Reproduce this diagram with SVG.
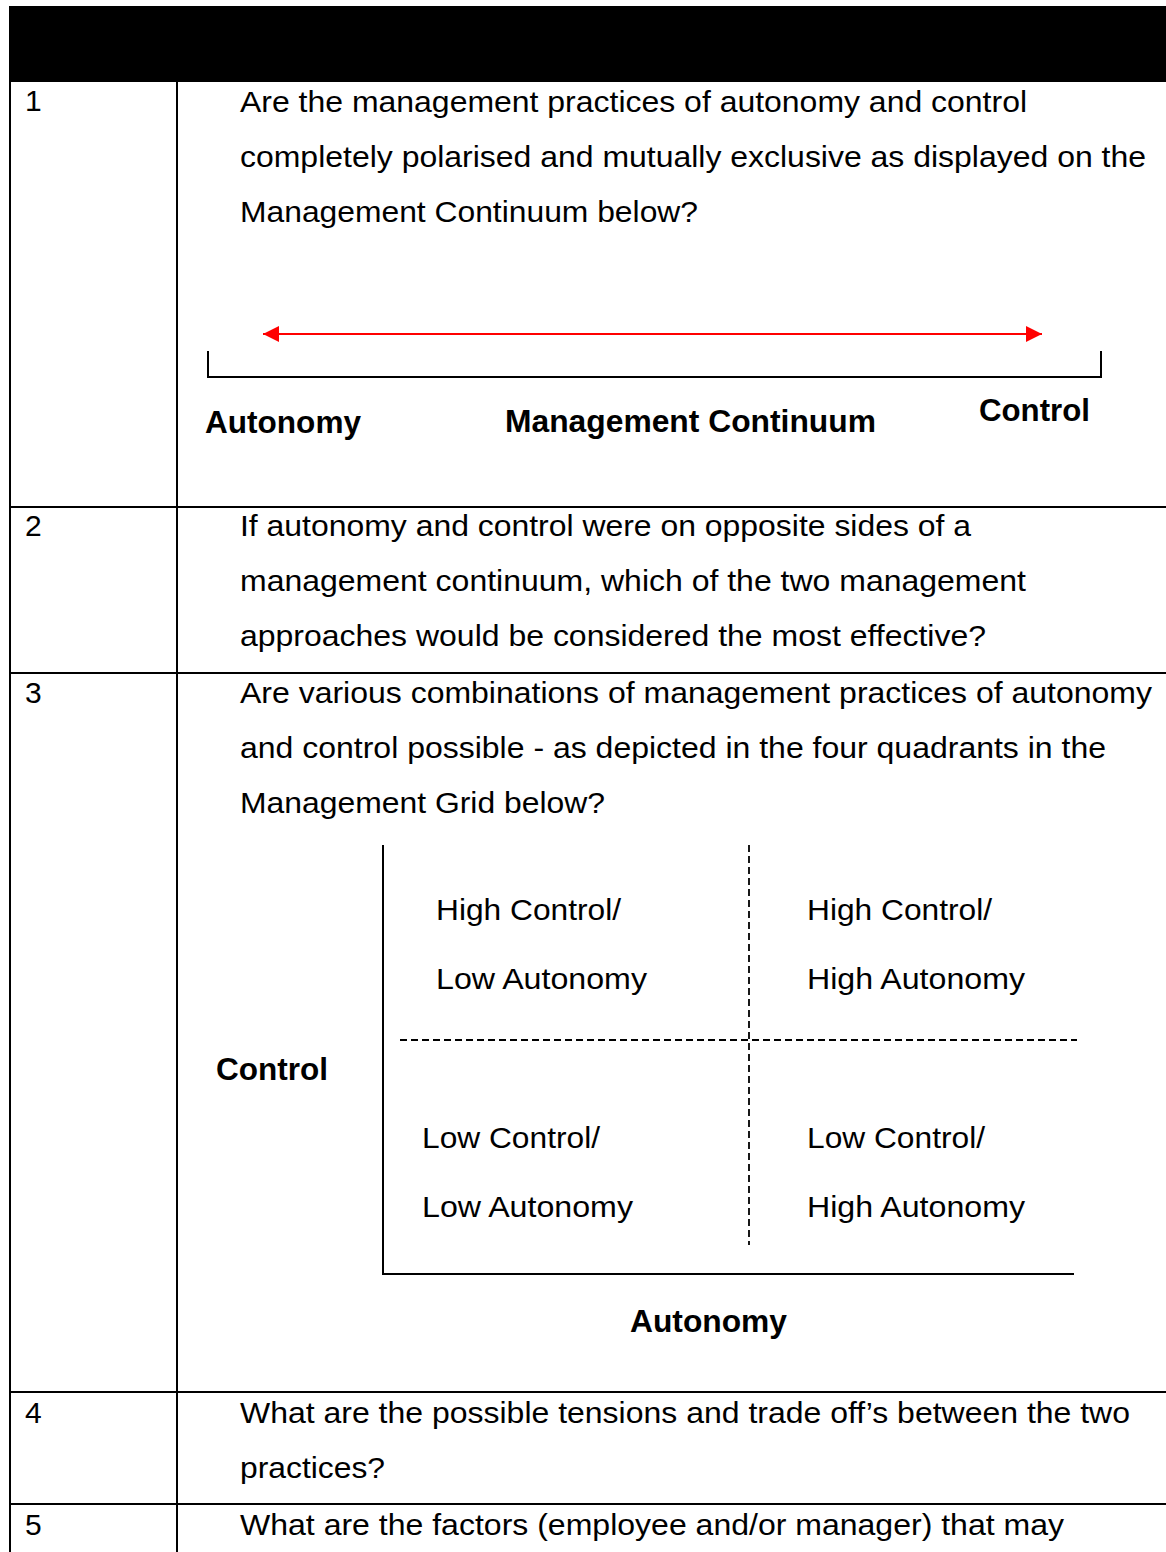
<svg xmlns="http://www.w3.org/2000/svg" width="1166" height="1552" viewBox="0 0 1166 1552">
<defs>
<style>
.t{font-family:"Liberation Sans",Arial,sans-serif;font-size:30px;fill:#000}
.b{font-family:"Liberation Sans",Arial,sans-serif;font-size:31px;font-weight:bold;fill:#000}
.ln{stroke:#000;stroke-width:2;fill:none}
.ds{stroke:#000;stroke-width:1.8;fill:none;stroke-dasharray:7 4}
</style>
<marker id="ah" viewBox="0 0 16 16" refX="16" refY="8" markerWidth="16" markerHeight="16" markerUnits="userSpaceOnUse" orient="auto-start-reverse">
<path d="M0,0 L16,8 L0,16 z" fill="#ff0000"/>
</marker>
</defs>
<rect width="1166" height="1552" fill="#fff"/>
<g id="table">
<rect x="9" y="6" width="1157" height="76" fill="#000"/>
<line class="ln" x1="10" y1="82" x2="10" y2="1552"/>
<line class="ln" x1="177" y1="82" x2="177" y2="1552"/>
<line class="ln" x1="9" y1="507" x2="1166" y2="507"/>
<line class="ln" x1="9" y1="673" x2="1166" y2="673"/>
<line class="ln" x1="9" y1="1392" x2="1166" y2="1392"/>
<line class="ln" x1="9" y1="1504" x2="1166" y2="1504"/>
</g>
<g id="row1">
<text class="t" x="25" y="111">1</text>
<text class="t" x="240" y="112" textLength="787" lengthAdjust="spacingAndGlyphs">Are the management practices of autonomy and control</text>
<text class="t" x="240" y="167" textLength="906" lengthAdjust="spacingAndGlyphs">completely polarised and mutually exclusive as displayed on the</text>
<text class="t" x="240" y="222" textLength="458" lengthAdjust="spacingAndGlyphs">Management Continuum below?</text>
</g>
<g id="continuum">
<line x1="263" y1="334" x2="1042" y2="334" stroke="#ff0000" stroke-width="2" marker-start="url(#ah)" marker-end="url(#ah)"/>
<polyline class="ln" points="208,351 208,377 1101,377 1101,351"/>
<text class="b" x="205" y="433" textLength="156" lengthAdjust="spacingAndGlyphs">Autonomy</text>
<text class="b" x="505" y="432" textLength="371" lengthAdjust="spacingAndGlyphs">Management Continuum</text>
<text class="b" x="979" y="421" textLength="111" lengthAdjust="spacingAndGlyphs">Control</text>
</g>
<g id="row2">
<text class="t" x="25" y="536">2</text>
<text class="t" x="240" y="536" textLength="731" lengthAdjust="spacingAndGlyphs">If autonomy and control were on opposite sides of a</text>
<text class="t" x="240" y="591" textLength="786" lengthAdjust="spacingAndGlyphs">management continuum, which of the two management</text>
<text class="t" x="240" y="646" textLength="746" lengthAdjust="spacingAndGlyphs">approaches would be considered the most effective?</text>
</g>
<g id="row3">
<text class="t" x="25" y="703">3</text>
<text class="t" x="240" y="703" textLength="912" lengthAdjust="spacingAndGlyphs">Are various combinations of management practices of autonomy</text>
<text class="t" x="240" y="758" textLength="866" lengthAdjust="spacingAndGlyphs">and control possible - as depicted in the four quadrants in the</text>
<text class="t" x="240" y="813" textLength="365" lengthAdjust="spacingAndGlyphs">Management Grid below?</text>
</g>
<g id="grid">
<line class="ln" x1="383" y1="845" x2="383" y2="1274"/>
<line class="ln" x1="382" y1="1274" x2="1074" y2="1274"/>
<line class="ds" x1="749" y1="845" x2="749" y2="1245"/>
<line class="ds" x1="400" y1="1040" x2="1077" y2="1040"/>
<text class="t" x="436" y="920" textLength="185" lengthAdjust="spacingAndGlyphs">High Control/</text>
<text class="t" x="436" y="989" textLength="211" lengthAdjust="spacingAndGlyphs">Low Autonomy</text>
<text class="t" x="807" y="920" textLength="185" lengthAdjust="spacingAndGlyphs">High Control/</text>
<text class="t" x="807" y="989" textLength="218" lengthAdjust="spacingAndGlyphs">High Autonomy</text>
<text class="t" x="422" y="1148" textLength="178" lengthAdjust="spacingAndGlyphs">Low Control/</text>
<text class="t" x="422" y="1217" textLength="211" lengthAdjust="spacingAndGlyphs">Low Autonomy</text>
<text class="t" x="807" y="1148" textLength="178" lengthAdjust="spacingAndGlyphs">Low Control/</text>
<text class="t" x="807" y="1217" textLength="218" lengthAdjust="spacingAndGlyphs">High Autonomy</text>
<text class="b" x="216" y="1080" textLength="112" lengthAdjust="spacingAndGlyphs">Control</text>
<text class="b" x="630" y="1332" textLength="157" lengthAdjust="spacingAndGlyphs">Autonomy</text>
</g>
<g id="row4">
<text class="t" x="25" y="1423">4</text>
<text class="t" x="240" y="1423" textLength="890" lengthAdjust="spacingAndGlyphs">What are the possible tensions and trade off’s between the two</text>
<text class="t" x="240" y="1478" textLength="145" lengthAdjust="spacingAndGlyphs">practices?</text>
</g>
<g id="row5">
<text class="t" x="25" y="1535">5</text>
<text class="t" x="240" y="1535" textLength="824" lengthAdjust="spacingAndGlyphs">What are the factors (employee and/or manager) that may</text>
</g>
</svg>
